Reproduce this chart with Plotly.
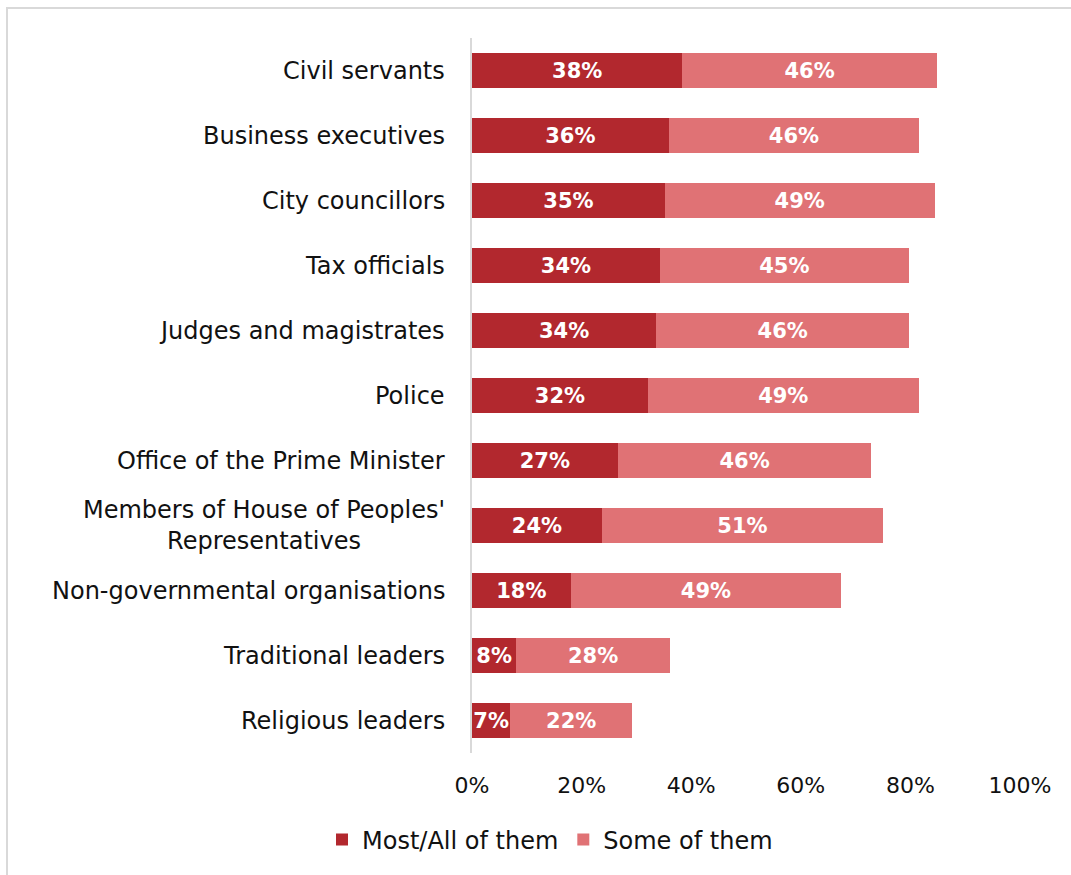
import plotly.graph_objects as go

categories = [
    "Civil servants",
    "Business executives",
    "City councillors",
    "Tax officials",
    "Judges and magistrates",
    "Police",
    "Office of the Prime Minister",
    "Members of House of Peoples'<br>Representatives",
    "Non-governmental organisations",
    "Traditional leaders",
    "Religious leaders",
]
most_all = [38.4, 35.9, 35.2, 34.3, 33.6, 32.1, 26.6, 23.7, 18.0, 8.1, 7.0]
some = [46.4, 45.7, 49.2, 45.4, 46.2, 49.4, 46.3, 51.3, 49.4, 28.0, 22.2]
series_names = ["Most/All of them", "Some of them"]
colors = ["#B2282E", "#E07275"]
x_ticks = [0, 20, 40, 60, 80, 100]
x_tick_labels = ["0%", "20%", "40%", "60%", "80%", "100%"]

FONT = "DejaVu Sans"

fig = go.Figure()
for name, vals, col in zip(series_names, [most_all, some], colors):
    fig.add_trace(go.Bar(
        y=categories, x=vals, name=name, orientation="h",
        marker=dict(color=col, line=dict(width=0)),
        text=[f"{v:.0f}%" for v in vals],
        textposition="inside", insidetextanchor="middle",
        constraintext="none",
        textfont=dict(family=FONT, size=21, color="white", weight="bold"),
        hoverinfo="skip",
    ))

W, H = 1071, 875
ml, mr, mt, mb = 472, 51, 38, 122
pw = W - ml - mr
ph = H - mt - mb

annotations = []
for c in categories:
    annotations.append(dict(
        x=-25 / pw, xref="paper", y=c, yref="y", text=c,
        xanchor="right", yanchor="middle", align="center", showarrow=False,
        font=dict(family=FONT, size=24, color="#111111"),
    ))

fig.update_layout(
    width=W, height=H,
    margin=dict(l=ml, r=mr, t=mt, b=mb, autoexpand=False),
    paper_bgcolor="white", plot_bgcolor="white",
    barmode="stack", bargap=0.46,
    font=dict(family=FONT, size=22, color="#111111"),
    xaxis=dict(
        range=[0, 100], tickvals=x_ticks, ticktext=x_tick_labels,
        showgrid=False, zeroline=False, showline=False,
        ticklabelstandoff=17, fixedrange=True,
        tickfont=dict(family=FONT, size=22, color="#111111"),
    ),
    yaxis=dict(
        autorange="reversed", showticklabels=False, showgrid=False,
        zeroline=False, showline=True, linecolor="#d9d9d9", linewidth=2,
        fixedrange=True,
    ),
    legend=dict(
        orientation="h", x=(550 - ml) / pw, xanchor="center",
        y=-(840 - (mt + ph)) / ph, yanchor="middle",
        font=dict(family=FONT, size=24, color="#111111"),
        traceorder="normal", itemwidth=30,
    ),
    annotations=annotations,
    shapes=[dict(
        type="rect", xref="paper", yref="paper",
        x0=(7 - ml) / pw, x1=(1080 - ml) / pw,
        y0=-(885 - (mt + ph)) / ph, y1=((mt + ph) - 8) / ph,
        line=dict(color="#d9d9d9", width=2), fillcolor="rgba(0,0,0,0)",
        layer="below",
    )],
)

fig.write_html("out.html")
